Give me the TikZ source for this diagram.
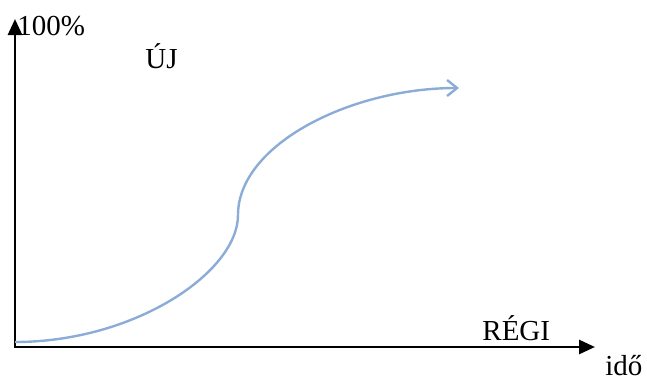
\documentclass[tikz,border=0pt]{standalone}
\usepackage{fontspec}
\setmainfont{Liberation Serif}
\usepackage{tikz}
\usetikzlibrary{positioning,calc}
\usetikzlibrary{arrows.meta}
\definecolor{CurveBlue}{RGB}{140,172,216}
\tikzset{
  axis/.style={draw=black,line width=1.4pt,-{Triangle[length=8pt,width=7pt]}},
  curve/.style={draw=CurveBlue,line width=1.2pt,-{Straight Barb[length=5pt,width=8pt]}},
  lbl/.style={inner sep=0pt,anchor=base west,font=\fontsize{14.5}{17}\selectfont},
}

\begin{document}
\begin{tikzpicture}[x=0.5pt,y=-0.5pt]
\useasboundingbox (0,0) rectangle (647,380);
\coordinate (o) at (15,347);
\coordinate (ytop) at (15,19);
\coordinate (xend) at (595,347);
\coordinate (c1) at (15,342);
\coordinate (c2) at (238,215);
\coordinate (c3) at (459,88);
\draw[axis] (o)--(ytop);
\draw[axis] ($(o)+(-1,0)$)--(xend);
\draw[curve] (c1) .. controls (135,342) and (238,272) .. (c2)
  .. controls (238,145) and (350,88) .. (c3);
\node[lbl] (full) at (17,35) {100\%};
\node[lbl] (new) at (145,68) {ÚJ};
\node[lbl] (old) at (482,340) {RÉGI};
\node[lbl] (time) at (605,375) {idő};
\end{tikzpicture}
\end{document}
